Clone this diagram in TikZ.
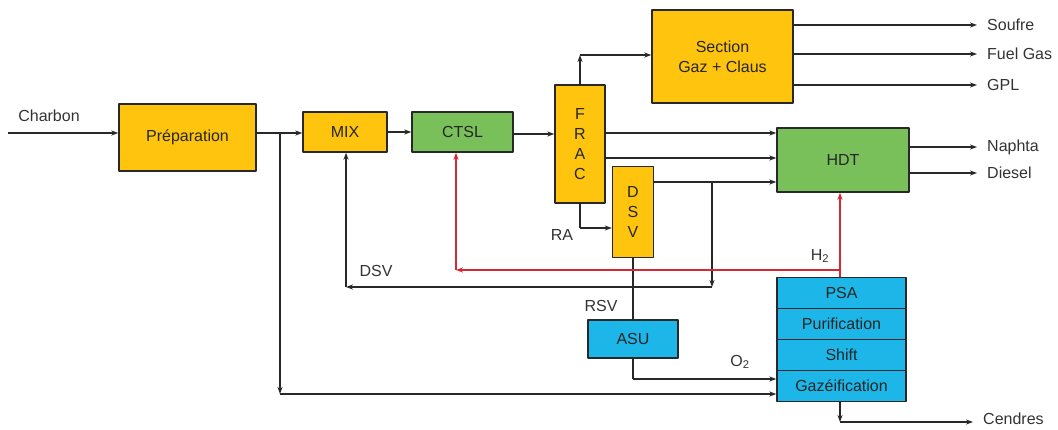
\documentclass[tikz,border=0pt]{standalone}
\usepackage{fontspec}
\setmainfont{Liberation Sans}
\usetikzlibrary{arrows.meta}
\definecolor{procyellow}{RGB}{255,196,14}
\definecolor{procgreen}{RGB}{122,192,90}
\definecolor{procblue}{RGB}{28,182,232}
\definecolor{hydred}{RGB}{214,40,52}
\definecolor{linegray}{RGB}{40,40,40}
\tikzset{
  every picture/.style={font=\fontsize{16}{20}\selectfont, line join=round, >=Stealth},
  unit/.style={draw=linegray, line width=1.4pt, inner sep=0pt, align=center, text=black!85},
  yellowunit/.style={unit, fill=procyellow},
  greenunit/.style={unit, fill=procgreen},
  blueunit/.style={unit, fill=procblue},
  flow/.style={draw=linegray, line width=1.1pt, -{Stealth[length=7pt,width=5pt]}},
  plain/.style={draw=linegray, line width=1.1pt},
  h2flow/.style={draw=hydred, line width=1.1pt, -{Stealth[length=7pt,width=5pt]}},
  lbl/.style={text=black!80, inner sep=1pt},
  outlbl/.style={lbl, anchor=west, inner xsep=10pt, inner ysep=0pt},
}

\begin{document}
\begin{tikzpicture}[x=1pt,y=-1pt]
\useasboundingbox (0,0) rectangle (1058,430);
% process units
\node[yellowunit, minimum width=137, minimum height=67] (prep) at (187.5,137.5) {Préparation};
\node[yellowunit, minimum width=84, minimum height=40] (mix) at (345,132) {MIX};
\node[greenunit, minimum width=101, minimum height=40] (ctsl) at (462.5,132) {CTSL};
\node[yellowunit, minimum width=50, minimum height=118] (frac) at (580,144) {F\\R\\A\\C};
\node[yellowunit, minimum width=41, minimum height=91] (dsv) at (633,212) {D\\S\\V};
\node[yellowunit, minimum width=141, minimum height=93] (claus) at (722.5,56.5) {Section\\Gaz + Claus};
\node[greenunit, minimum width=132, minimum height=64] (hdt) at (843,160) {HDT};
\node[blueunit, minimum width=90, minimum height=38] (asu) at (633,339) {ASU};
% gasification stack
\foreach \name/\txt [count=\i] in {psa/PSA,puri/Purification,shift/Shift,gaz/Gazéification}
  \node[blueunit, minimum width=129, minimum height=31] (\name) at (841.5,262+31*\i) {\txt};

% outputs
\node[outlbl] (soufre) at (977,25) {Soufre};
\node[outlbl] (fuelgas) at (977,54) {Fuel Gas};
\node[outlbl] (gpl) at (977,85) {GPL};
\node[outlbl] (naphta) at (977,147) {Naphta};
\node[outlbl] (diesel) at (977,173) {Diesel};
\node[outlbl] (cendres) at (973,419) {Cendres};

% stream labels
\node[lbl] (charbon) at (49,116) {Charbon};
\node[lbl] (dsvlbl) at (376,271) {DSV};
\node[lbl] (ralbl) at (562,235) {RA};
\node[lbl] (rsvlbl) at (601,306) {RSV};
\node[lbl] (o2lbl) at (740,362) {O\textsubscript{2}};
\node[lbl] (h2lbl) at (820,256) {H\textsubscript{2}};

% junctions
\coordinate (feed) at (8,133);
\coordinate (split) at (280,133);
\coordinate (coalbot) at (280,394);
\coordinate (o2bot) at (633,379);
\coordinate (fracup) at (580,55);
\coordinate (radown) at (580,228);
\coordinate (dsvsplit) at (712,182);
\coordinate (dsvbot) at (712,287);
\coordinate (mixbot) at (346,287);
\coordinate (h2node) at (840,270);
\coordinate (h2left) at (456,270);
\coordinate (ashbot) at (840,422);

% coal line
\draw[flow] (feed) -- (feed -| prep.west);
\draw[flow] (split -| prep.east) -- (split -| mix.west);
\draw[flow] (split) -- (coalbot);
\draw[flow] (coalbot) -- (coalbot -| gaz.west);
\draw[flow] (mix.east) -- (ctsl.west);
\draw[flow] (ctsl.east |- 0,134) -- (frac.west |- 0,134);
% fractionation
\draw[flow] (frac.north |- 0,85) -- (fracup);
\draw[flow] (fracup) -- (fracup -| claus.west);
\draw[flow] (frac.east |- 0,133) -- (hdt.west |- 0,133);
\draw[flow] (frac.east |- 0,158) -- (hdt.west |- 0,158);
\draw[plain] (frac.south |- 0,203) -- (radown);
\draw[flow] (radown) -- (radown -| dsv.west);
\draw[flow] (dsv.east |- dsvsplit) -- (hdt.west |- dsvsplit);
% DSV recycle
\draw[flow] (dsvsplit) -- (dsvbot);
\draw[flow] (dsvbot) -- (mixbot);
\draw[flow] (mixbot) -- (mixbot |- mix.south);
\draw[plain] (dsv.south) -- (asu.north);
% oxygen
\draw[plain] (asu.south) -- (o2bot);
\draw[flow] (o2bot) -- (o2bot -| gaz.west);
% hydrogen
\draw[h2flow] (h2node |- psa.north) -- (h2node |- hdt.south);
\draw[h2flow] (h2node) -- (h2left);
\draw[h2flow] (h2left) -- (h2left |- ctsl.south);
% products
\draw[flow] (claus.east |- soufre) -- (soufre.west);
\draw[flow] (claus.east |- fuelgas) -- (fuelgas.west);
\draw[flow] (claus.east |- gpl) -- (gpl.west);
\draw[flow] (hdt.east |- naphta) -- (naphta.west);
\draw[flow] (hdt.east |- diesel) -- (diesel.west);
\draw[flow] (ashbot |- gaz.south) -- (ashbot);
\draw[flow] (ashbot) -- (ashbot -| cendres.west);
\end{tikzpicture}
\end{document}
